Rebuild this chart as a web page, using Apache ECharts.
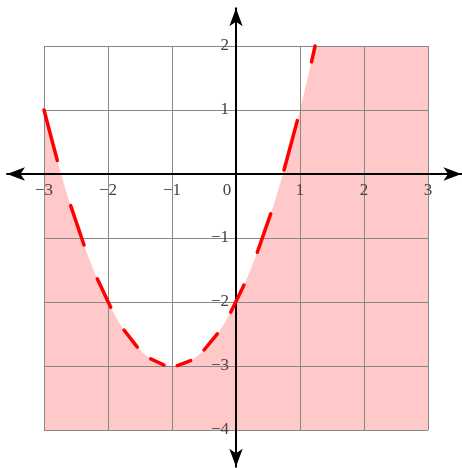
<!DOCTYPE html>
<html>
<head>
<meta charset="utf-8">
<script src="https://cdn.jsdelivr.net/npm/echarts@6/dist/echarts.min.js"></script>
<style>
  html, body { margin: 0; padding: 0; background: #fff; }
  #chart { width: 462px; height: 468px; }
</style>
</head>
<body>
<div id="chart"></div>
<script>
// curve samples (boundary of the shaded region)
var curveX = [-3, -2.75, -2.5, -2.25, -2, -1.75, -1.5, -1.25, -1, -0.75, -0.5, -0.25, 0, 0.25, 0.5, 0.75, 1, 1.25];
var curveY = [1, 0.06, -0.75, -1.44, -2, -2.44, -2.75, -2.94, -3, -2.94, -2.75, -2.44, -2, -1.44, -0.75, 0.06, 1, 2.06];

// where the curve leaves the top of the grid, and the shaded block to its right
var topExitX = 1.236;
var rightEdgeX = 3;
var topY = 2;

// red dashes: start and end of each dash
var dashStart = [[-3, 1], [-2.583, -0.494], [-2.167, -1.638], [-1.75, -2.438], [-1.333, -2.889], [-0.917, -2.993],
                 [-0.5, -2.75], [-0.083, -2.159], [0.333, -1.223], [0.75, 0.063], [1.18, 1.752]];
var dashEnd = [[-2.792, 0.211], [-2.375, -1.109], [-1.958, -2.082], [-1.542, -2.706], [-1.125, -2.984], [-0.708, -2.915],
               [-0.292, -2.499], [0.125, -1.734], [0.542, -0.622], [0.958, 0.834], [1.236, 2]];

// axis ranges
var xRange = [-3, 3];
var yRange = [-4, 2];

var labelFont = 'Liberation Serif';
var labelSize = 17;
var labelColor = '#444';
var fillColor = '#ffc9c9';

function minus(v) {
	return String(v).replace('-', '\u2212');
}

var myChart = echarts.init(document.getElementById('chart'));

var curveData = curveX.map(function (x, i) { return [x, curveY[i]]; });
var dashData = dashStart.map(function (p, i) { return [p[0], p[1], dashEnd[i][0], dashEnd[i][1]]; });

var option = {
	animation: false,
	grid: [
		// plot area with the square grid
		{ left: 44, right: 34, top: 46, bottom: 38, outerBoundsMode: 'none' },
		// long axes with arrow heads
		{ left: 7, right: 0.5, top: 8.3, bottom: 1.3, outerBoundsMode: 'none' }
	],
	xAxis: [
		{
			// labels sit just under the x axis (moved up from the bottom edge)
			type: 'value', gridIndex: 0, min: xRange[0], max: xRange[1], interval: 1, z: 3,
			position: 'bottom', offset: -256,
			axisLine: { show: false, onZero: false },
			axisTick: { show: false },
			splitLine: { show: true, lineStyle: { color: '#888', width: 1 } },
			axisLabel: {
				margin: 8,
				fontFamily: labelFont, fontSize: labelSize, color: labelColor,
				formatter: function (v) {
					if (v === 0) return '{z|0}';
					return minus(v);
				},
				rich: { z: { padding: [0, 18, 0, 0], fontFamily: labelFont, fontSize: labelSize, color: labelColor } }
			}
		},
		{
			type: 'value', gridIndex: 1, min: -3.578, max: 3.523, z: 4,
			axisLine: { show: true, onZero: true, symbol: ['arrow', 'arrow'], symbolSize: [10, 18], lineStyle: { color: '#000', width: 2 } },
			axisTick: { show: false }, axisLabel: { show: false }, splitLine: { show: false }
		}
	],
	yAxis: [
		{
			// labels sit just left of the y axis (moved in from the left edge)
			type: 'value', gridIndex: 0, min: yRange[0], max: yRange[1], interval: 1, z: 3,
			position: 'left', offset: -192,
			axisLine: { show: false, onZero: false },
			axisTick: { show: false },
			splitLine: { show: true, lineStyle: { color: '#888', width: 1 } },
			axisLabel: {
				margin: 7,
				padding: [6, 0, 0, 0],
				fontFamily: labelFont, fontSize: labelSize, color: labelColor,
				formatter: function (v) {
					if (v === 0) return '';
					return minus(v);
				}
			}
		},
		{
			type: 'value', gridIndex: 1, min: -4.573, max: 2.589, z: 4,
			axisLine: { show: true, onZero: true, symbol: ['arrow', 'arrow'], symbolSize: [10, 18], lineStyle: { color: '#000', width: 2 } },
			axisTick: { show: false }, axisLabel: { show: false }, splitLine: { show: false }
		}
	],
	series: [
		{
			// shaded area below the curve
			type: 'line', xAxisIndex: 0, yAxisIndex: 0, z: 1,
			data: curveData,
			smooth: 0.35,
			showSymbol: false,
			lineStyle: { width: 0, opacity: 0 },
			areaStyle: { color: fillColor, opacity: 1, origin: 'start' },
			silent: true
		},
		{
			// shaded block right of where the curve leaves the grid
			type: 'line', xAxisIndex: 0, yAxisIndex: 0, z: 1,
			data: [[topExitX, topY], [rightEdgeX, topY]],
			showSymbol: false,
			lineStyle: { width: 0, opacity: 0 },
			areaStyle: { color: fillColor, opacity: 1, origin: 'start' },
			silent: true
		},
		{
			// dashed red boundary
			type: 'custom', xAxisIndex: 0, yAxisIndex: 0, z: 10,
			data: dashData,
			silent: true,
			renderItem: function (params, api) {
				var p0 = api.coord([api.value(0), api.value(1)]);
				var p1 = api.coord([api.value(2), api.value(3)]);
				return {
					type: 'line',
					shape: { x1: p0[0], y1: p0[1], x2: p1[0], y2: p1[1] },
					style: { stroke: '#ff0000', lineWidth: 3.5, lineCap: 'round' }
				};
			}
		}
	]
};

myChart.setOption(option);
window.onresize = myChart.resize;
</script>
</body>
</html>
